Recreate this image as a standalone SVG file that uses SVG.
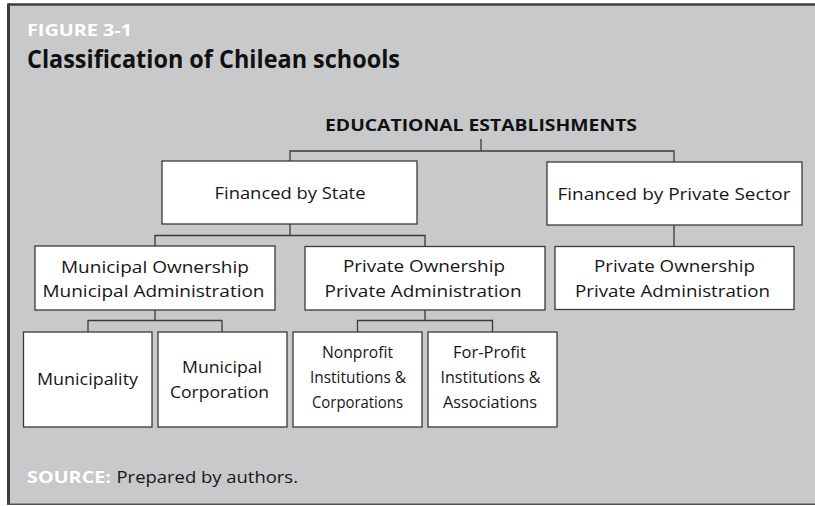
<svg xmlns="http://www.w3.org/2000/svg" width="815" height="506" viewBox="0 0 815 506">
<style>
.box{fill:#ffffff;stroke:#3a3a3a;stroke-width:1.3}
.con{fill:none;stroke:#3a3a3a;stroke-width:1.3}
.t{font-family:"Open Sans","Noto Sans","Liberation Sans",sans-serif;font-size:17px;fill:#161616;text-anchor:middle}
.c{font-family:"Open Sans","Noto Sans","Liberation Sans",sans-serif;font-size:16.8px;fill:#161616;text-anchor:middle}
.b{font-family:"Open Sans","Noto Sans","Liberation Sans",sans-serif;font-weight:bold}
</style>
<rect x="0" y="0" width="815" height="506" fill="#ffffff"/>
<rect x="8" y="4" width="807" height="500" fill="#c8c9cb"/>
<line x1="8" y1="4.5" x2="815" y2="4.5" stroke="#3c3c3c" stroke-width="2.5"/>
<line x1="8.5" y1="3.5" x2="8.5" y2="505" stroke="#3c3c3c" stroke-width="3"/>
<line x1="7" y1="504.2" x2="815" y2="504.2" stroke="#555555" stroke-width="1.6"/>

<g id="header">
<text class="b" x="27" y="36" font-size="15.5" fill="#ffffff" textLength="105" lengthAdjust="spacingAndGlyphs">FIGURE 3-1</text>
<text class="b" x="27" y="68" font-size="25" fill="#111111" textLength="373" lengthAdjust="spacingAndGlyphs">Classification of Chilean schools</text>
</g>

<g id="connectors">
<path class="con" d="M481,139 V151 M290,161 V151 H674 V162"/>
<path class="con" d="M290,224 V235.5 M155,246 V235.5 H425 V246.5"/>
<path class="con" d="M674,225 V246.5"/>
<path class="con" d="M155,310 V320.5 M88,332 V320.5 H222 V332"/>
<path class="con" d="M425,310 V320.5 M357.5,332 V320.5 H492.5 V332"/>
</g>

<g id="root">
<text class="b" x="481" y="130.5" font-size="16.5" fill="#111111" text-anchor="middle" textLength="312" lengthAdjust="spacingAndGlyphs">EDUCATIONAL ESTABLISHMENTS</text>
</g>

<g id="state">
<rect class="box" x="162" y="161" width="255" height="63"/>
<text class="t" x="290" y="199" textLength="151" lengthAdjust="spacingAndGlyphs">Financed by State</text>
</g>

<g id="private-sector">
<rect class="box" x="547" y="162" width="255" height="63"/>
<text class="t" x="674" y="200" textLength="233" lengthAdjust="spacingAndGlyphs">Financed by Private Sector</text>
</g>

<g id="municipal">
<rect class="box" x="35" y="246" width="240" height="64"/>
<text class="t" x="155" y="272.5" textLength="188" lengthAdjust="spacingAndGlyphs">Municipal Ownership</text>
<text class="t" x="153.5" y="296.8" textLength="222" lengthAdjust="spacingAndGlyphs">Municipal Administration</text>
</g>

<g id="private-state">
<rect class="box" x="305" y="246.5" width="240" height="63.5"/>
<text class="t" x="424" y="271.8" textLength="162" lengthAdjust="spacingAndGlyphs">Private Ownership</text>
<text class="t" x="423" y="296.5" textLength="197" lengthAdjust="spacingAndGlyphs">Private Administration</text>
</g>

<g id="private-private">
<rect class="box" x="555" y="246.5" width="239" height="63"/>
<text class="t" x="674.5" y="271.8" textLength="161" lengthAdjust="spacingAndGlyphs">Private Ownership</text>
<text class="t" x="672.5" y="296.7" textLength="195" lengthAdjust="spacingAndGlyphs">Private Administration</text>
</g>

<g id="municipality">
<rect class="box" x="23.5" y="332" width="128.5" height="95"/>
<text class="t" x="87.5" y="385" textLength="101" lengthAdjust="spacingAndGlyphs">Municipality</text>
</g>

<g id="municipal-corporation">
<rect class="box" x="158" y="332" width="129" height="95"/>
<text class="t" x="222" y="373" textLength="80" lengthAdjust="spacingAndGlyphs">Municipal</text>
<text class="t" x="219.5" y="398" textLength="99" lengthAdjust="spacingAndGlyphs">Corporation</text>
</g>

<g id="nonprofit">
<rect class="box" x="293" y="332" width="129" height="95"/>
<text class="c" x="357.5" y="358" textLength="71" lengthAdjust="spacingAndGlyphs">Nonprofit</text>
<text class="c" x="358" y="383" textLength="96" lengthAdjust="spacingAndGlyphs">Institutions &amp;</text>
<text class="c" x="357.5" y="408" textLength="91" lengthAdjust="spacingAndGlyphs">Corporations</text>
</g>

<g id="forprofit">
<rect class="box" x="428" y="332" width="129" height="95"/>
<text class="c" x="489.5" y="358" textLength="73" lengthAdjust="spacingAndGlyphs">For-Profit</text>
<text class="c" x="490.5" y="383" textLength="100" lengthAdjust="spacingAndGlyphs">Institutions &amp;</text>
<text class="c" x="490" y="408" textLength="94" lengthAdjust="spacingAndGlyphs">Associations</text>
</g>

<g id="source">
<text x="27" y="483.3" font-family="'Open Sans','Noto Sans','Liberation Sans',sans-serif" font-size="16.3"><tspan font-weight="bold" fill="#ffffff" textLength="84" lengthAdjust="spacingAndGlyphs">SOURCE:</tspan><tspan x="116.5" fill="#161616" textLength="181.5" lengthAdjust="spacingAndGlyphs">Prepared by authors.</tspan></text>
</g>
</svg>
